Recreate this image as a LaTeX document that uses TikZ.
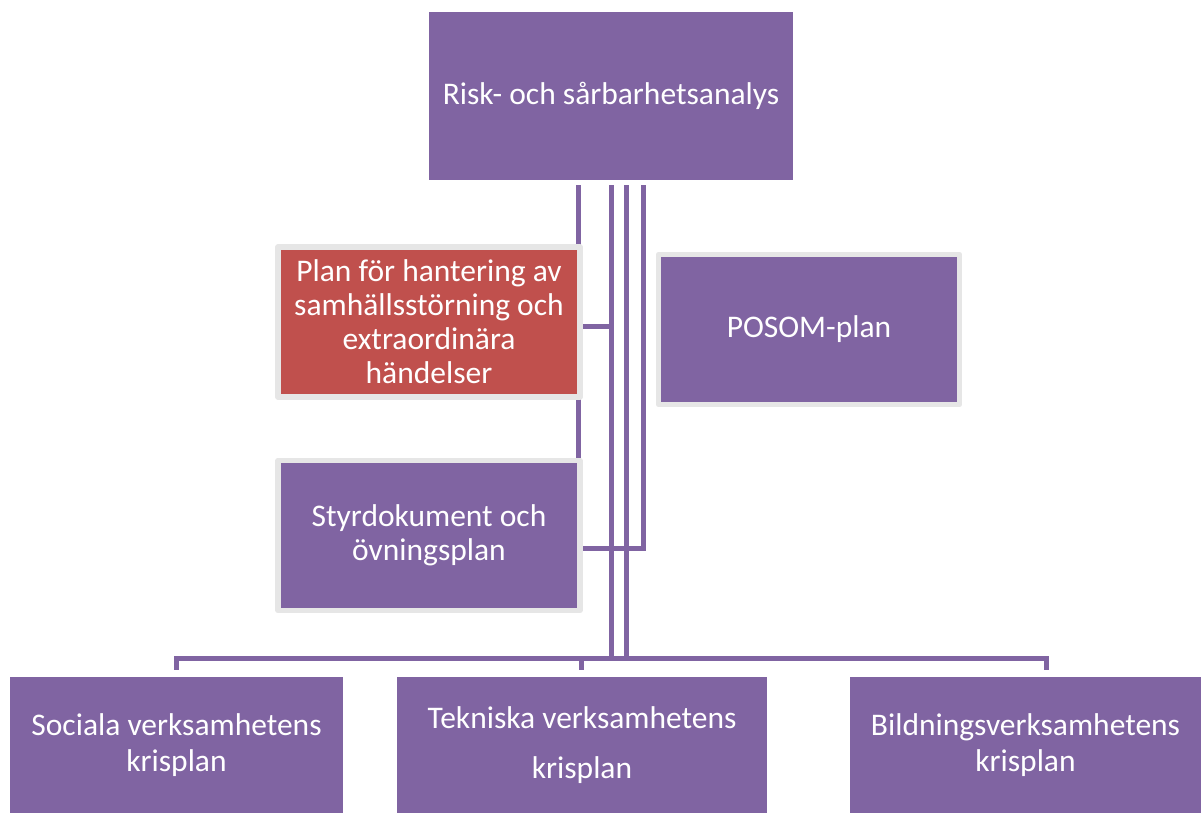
\documentclass[tikz,border=0pt]{standalone}
\usepackage{fontspec}
\setmainfont{Carlito}
\usetikzlibrary{calc,backgrounds}
\definecolor{boxpurple}{HTML}{8064A2}
\definecolor{boxred}{HTML}{C0504D}
\definecolor{framegray}{HTML}{E6E6E6}
\tikzset{
  box/.style={fill=boxpurple, draw=none, inner sep=0pt, align=center, text=white,
    font=\fontsize{31.5}{34}\selectfont},
  framed/.style={box, draw=framegray, line width=5.5pt, line join=round},
  conn/.style={draw=boxpurple, line width=5pt},
  bottombox/.style={box, minimum height=136pt, font=\fontsize{31.5}{36}\selectfont},
}
\begin{document}
\begin{tikzpicture}[x=1pt,y=-1pt]
\useasboundingbox (0,0) rectangle (1201,814);
% boxes
\node[box, minimum width=364pt, minimum height=168pt] (top) at (611,96) {Risk- och sårbarhetsanalys};
\node[framed, fill=boxred, minimum width=302pt, minimum height=150pt] (plan) at (429,322)
  {Plan för hantering av\\samhällsstörning och\\extraordinära\\händelser};
\node[framed, minimum width=301pt, minimum height=150pt] (posom) at (809,329.5) {POSOM-plan};
\node[framed, minimum width=302pt, minimum height=150pt] (sty) at (429,535.5)
  {Styrdokument och\\övningsplan};
\node[bottombox, minimum width=333pt] (soc) at (176.5,745) {Sociala verksamhetens\\krisplan};
\node[bottombox, minimum width=370pt] (tek) at (582,745) {Tekniska verksamhetens\\[14pt]krisplan};
\node[bottombox, minimum width=351pt] (bild) at (1025.5,745) {Bildningsverksamhetens\\krisplan};
% connectors
\begin{pgfonlayer}{background}
\coordinate (busL) at ($(soc.north)+(0,-7)$);
\coordinate (busM) at ($(tek.north)+(-1,-7)$);
\coordinate (busR) at ($(bild.north)+(20.5,-7)$);
\coordinate (bar) at ($(tek.north)+(0,-18)$);
\coordinate (l1) at ($(top.south)+(-33,5)$);
\coordinate (l2) at ($(top.south)+(0,5)$);
\coordinate (l3) at ($(top.south)+(15,5)$);
\coordinate (l4) at ($(top.south)+(32,5)$);
\coordinate (pe) at ($(plan.east)+(0,4)$);
\coordinate (se) at ($(sty.east)+(0,13)$);
\draw[conn] (l1) -- (l1 |- sty.north);
\draw[conn] (l2) -- (l2 |- bar);
\draw[conn] (l3) -- (l3 |- bar);
\draw[conn] (l4) -- (l4 |- se) -- (se);
\draw[conn] (pe) -- (l2 |- pe);
\draw[conn] (busL) -- (busL |- bar) -- (busR |- bar) -- (busR);
\draw[conn] (busM) -- (busM |- bar);
\end{pgfonlayer}
\end{tikzpicture}
\end{document}
